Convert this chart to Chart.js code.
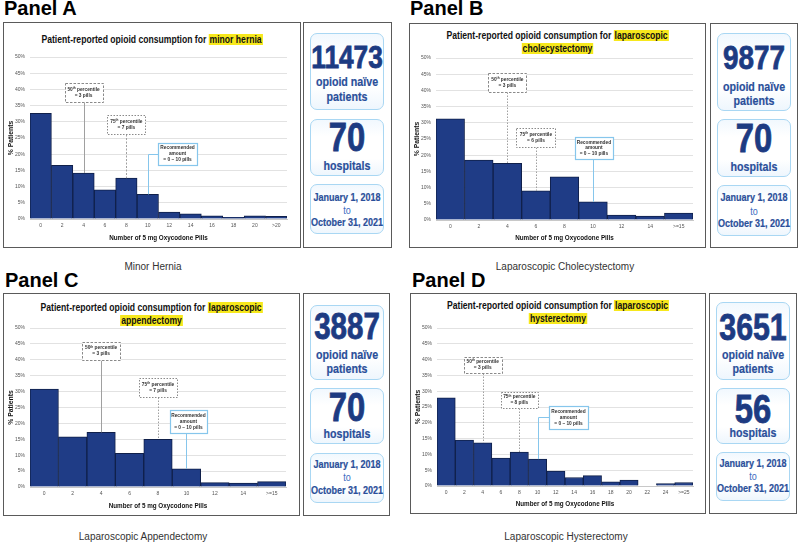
<!DOCTYPE html>
<html>
<head>
<meta charset="utf-8">
<script src="https://cdn.jsdelivr.net/npm/chart.js@4.4.1/dist/chart.umd.min.js"></script>
<style>
  html,body{margin:0;padding:0;background:#fff;}
  #root{position:relative;width:800px;height:547px;overflow:hidden;background:#fff;font-family:"Liberation Sans",Arial,sans-serif;}
  .plabel{position:absolute;font-weight:bold;font-size:20px;color:#000;line-height:22px;white-space:nowrap;}
  .cbox{position:absolute;box-sizing:border-box;border:1.5px solid #5a5a5a;background:#fff;}
  .ctitle{position:absolute;left:0;right:0;text-align:center;font-family:"Liberation Sans",Arial,sans-serif;font-weight:bold;font-size:10px;line-height:13px;color:#111;transform:scaleX(0.86);transform-origin:50% 50%;}
  .hl{background:#f7e81c;padding:0 1px;}
  canvas.cv{position:absolute;}
  .side{position:absolute;box-sizing:border-box;border:1.5px solid #5a5a5a;background:#fff;}
  .ibox{position:absolute;box-sizing:border-box;border:1.5px solid #a9d7f3;border-radius:7px;background:linear-gradient(#f1f8fe,#ffffff 30%,#ffffff 70%,#eef6fd);text-align:center;font-family:"Liberation Sans",Arial,sans-serif;font-weight:bold;color:#23468f;}
  .txt{position:absolute;left:-10px;right:-10px;white-space:nowrap;transform:scaleX(0.82);transform-origin:50% 50%;}
  .big{color:#1d3b82;-webkit-text-stroke:0.8px #1d3b82;}
  .sub{color:#2a4f9a;-webkit-text-stroke:0.2px #2a4f9a;}
  .cap{position:absolute;font-size:10px;color:#333;white-space:nowrap;transform:translateX(-50%);}
</style>
</head>
<body>
<div id="root"></div>
<script>
// ---------------- DATA ----------------
const labelsA = ['0','2','4','6','8','10','12','14','16','18','20','>20'];
const valuesA = [32.6,16.6,14.2,9.0,12.6,7.6,2.1,1.6,1.0,0.5,1.0,0.8];

const labelsB = ['0','2','4','6','8','10','12','14','>=15'];
const valuesB = [31.2,18.5,17.5,9.0,13.3,5.6,1.5,1.2,2.1];

const labelsC = ['0','2','4','6','8','10','12','14','>=15'];
const valuesC = [30.8,15.8,17.2,10.6,15.0,5.7,1.4,1.2,1.7];

const labelsD = ['0','2','4','6','8','10','12','14','16','18','20','22','24','>=25'];
const valuesD = [27.9,14.5,13.7,8.8,10.7,8.5,4.7,2.7,3.3,1.3,1.9,0,0.8,1.1];

const yTicks = [0,5,10,15,20,25,30,35,40,45,50];

const panelNames = ['Panel A','Panel B','Panel C','Panel D'];
const titleMain = 'Patient-reported opioid consumption for';
const procedures = ['minor hernia','laparoscopic cholecystectomy','laparoscopic appendectomy','laparoscopic hysterectomy'];
const captions = ['Minor Hernia','Laparoscopic Cholecystectomy','Laparoscopic Appendectomy','Laparoscopic Hysterectomy'];
const patients = ['11473','9877','3887','3651'];
const hospitals = ['70','70','70','56'];
const dateFrom = 'January 1, 2018';
const dateTo = 'October 31, 2021';

const p50Pills = ['3','3','3','3'];
const p75Pills = ['7','6','7','8'];
const recPills = ['0 – 10','0 – 10','0 – 10','0 – 10'];

const xTitle = 'Number of 5 mg Oxycodone Pills';
const yTitle = '% Patients';

// ---------------- LAYOUT ----------------
const panels = [
  {labels:labelsA, values:valuesA, label:{x:4,y:-3},
   box:{x:3,y:22,w:298,h:226}, titleTop:9.5, twoLine:false,
   plot:{l:27,t:35,r:14,b:29},
   side:{x:303,y:22,w:89,h:226, inner:[[6,10,74,77],[6,96,74,57],[6,161,74,50]]},
   sideText:{big:32, c:[[24,49,64],[18,47],[13,26,38]]},
   cap:{x:153,y:261},
   ann:[
     {type:'p50', boxIdx:2, boxPct:39.0, w:38, h:19, lineIdx:2, lineDash:[]},
     {type:'p75', boxIdx:4, boxPct:29.2, w:38, h:19, lineIdx:4, lineDash:[2,1.5]},
     {type:'rec', boxIdx:6.39, boxPct:20.1, w:39, h:22, lineIdx:5, elbow:true}
   ]},
  {labels:labelsB, values:valuesB, label:{x:410,y:-3},
   box:{x:409,y:23,w:297,h:225}, titleTop:4.5, twoLine:true,
   plot:{l:27,t:35,r:13,b:28},
   side:{x:710,y:23,w:88,h:225, inner:[[6,9,74,78],[6,95,74,58],[6,161,74,51]]},
   sideText:{big:34, c:[[24.5,54,68],[19,48],[12,26,38]]},
   cap:{x:565,y:261},
   ann:[
     {type:'p50', boxIdx:2, boxPct:42.4, w:38, h:19, lineIdx:2, lineDash:[1.5,1.5]},
     {type:'p75', boxIdx:3, boxPct:25.5, w:39, h:19, lineIdx:3, lineDash:[1.5,1.5]},
     {type:'rec', boxIdx:5.03, boxPct:22.2, w:38, h:22, lineIdx:5, elbow:false}
   ]},
  {labels:labelsC, values:valuesC, label:{x:5,y:269},
   box:{x:3,y:293,w:297,h:223}, titleTop:6.5, twoLine:true,
   plot:{l:27,t:35,r:14,b:29},
   side:{x:303,y:293,w:87,h:223, inner:[[6,11,74,75],[6,94,74,56],[6,159,74,50]]},
   sideText:{big:36, c:[[22.5,50,64],[19.5,46],[11,24,37]]},
   cap:{x:143,y:531},
   ann:[
     {type:'p50', boxIdx:2, boxPct:42.8, w:38, h:18, lineIdx:2, lineDash:[]},
     {type:'p75', boxIdx:4, boxPct:31.3, w:38, h:19, lineIdx:4, lineDash:[1.5,1.5]},
     {type:'rec', boxIdx:5.07, boxPct:20.6, w:37, h:23, lineIdx:5, elbow:false}
   ]},
  {labels:labelsD, values:valuesD, label:{x:412,y:269},
   box:{x:410,y:293,w:296,h:221}, titleTop:4.5, twoLine:true,
   plot:{l:27,t:35,r:13,b:28},
   side:{x:709,y:293,w:88,h:221, inner:[[6,8,74,78],[6,94,74,56],[6,158,74,49]]},
   sideText:{big:37, c:[[26,53,67],[21,45],[11,24,36]]},
   cap:{x:566,y:531},
   ann:[
     {type:'p50', boxIdx:2, boxPct:38.4, w:38, h:16, lineIdx:2, lineDash:[1.5,1.5]},
     {type:'p75', boxIdx:4, boxPct:27.2, w:37, h:16, lineIdx:4, lineDash:[1.5,1.5]},
     {type:'rec', boxIdx:6.69, boxPct:21.7, w:39, h:23, lineIdx:5, elbow:true}
   ]}
];

const root = document.getElementById('root');
function el(tag, cls, style, html, parent){
  const e=document.createElement(tag); if(cls) e.className=cls;
  if(style) Object.assign(e.style, style); if(html!==undefined) e.innerHTML=html;
  (parent||root).appendChild(e); return e;
}

// annotation plugin: draws percentile boxes & leader lines positioned through the scales
const annPlugin = {
  id:'pctAnn',
  afterDatasetsDraw(chart){
    const anns = chart.options.plugins.pctAnn.items;
    const texts = chart.options.plugins.pctAnn.texts;
    const xs = chart.scales.x, ys = chart.scales.y;
    const vals = chart.data.datasets[0].data;
    const ctx = chart.ctx;
    const step = xs.getPixelForValue(1) - xs.getPixelForValue(0);
    anns.forEach((a,k)=>{
      const cx = xs.getPixelForValue(0) + a.boxIdx*step;
      const cy = ys.getPixelForValue(a.boxPct);
      const bx = Math.round(cx - a.w/2)+0.5, by = Math.round(cy - a.h/2)+0.5;
      const lx = Math.round(xs.getPixelForValue(a.lineIdx))+0.5;
      const barTop = ys.getPixelForValue(vals[a.lineIdx]);
      ctx.save();
      ctx.lineWidth = 1;
      if(a.type==='rec'){
        ctx.strokeStyle = '#86c6ec'; ctx.setLineDash([]);
        ctx.beginPath();
        if(a.elbow){ ctx.moveTo(bx, Math.round(cy)+0.5); ctx.lineTo(lx, Math.round(cy)+0.5); ctx.lineTo(lx, barTop); }
        else { ctx.moveTo(lx, by+a.h); ctx.lineTo(lx, barTop); }
        ctx.stroke();
      } else {
        ctx.strokeStyle = '#a0a0a0'; ctx.setLineDash(a.lineDash);
        ctx.beginPath(); ctx.moveTo(lx, by+a.h); ctx.lineTo(lx, barTop); ctx.stroke();
      }
      ctx.fillStyle = '#fff';
      ctx.fillRect(bx, by, a.w, a.h);
      if(a.type==='rec'){ ctx.strokeStyle='#86c6ec'; ctx.setLineDash([]); ctx.lineWidth=1.2; }
      else if(a.type==='p50'){ ctx.strokeStyle='#8a8a8a'; ctx.setLineDash([2.5,1.5]); ctx.lineWidth=1; }
      else { ctx.strokeStyle='#8a8a8a'; ctx.setLineDash([1.5,1.5]); ctx.lineWidth=1; }
      ctx.strokeRect(bx, by, a.w, a.h);
      ctx.setLineDash([]);
      ctx.fillStyle = '#333';
      ctx.textBaseline = 'middle';
      const fs = 4.8;
      const font = (s)=> 'bold '+s+'px "Liberation Sans", Arial, sans-serif';
      const t = texts[k];
      const lh = 5.8;
      const y0 = cy - (t.length-1)*lh/2;
      t.forEach((line,i)=>{
        const yy = y0 + i*lh;
        if(Array.isArray(line)){
          ctx.font = font(fs); const w1 = ctx.measureText(line[0]).width;
          ctx.font = font(fs*0.65); const w2 = ctx.measureText(line[1]).width;
          ctx.font = font(fs); const w3 = ctx.measureText(line[2]).width;
          let x = cx - (w1+w2+w3)/2;
          ctx.textAlign='left';
          ctx.font = font(fs); ctx.fillText(line[0], x, yy); x+=w1;
          ctx.font = font(fs*0.65); ctx.fillText(line[1], x, yy-1.3); x+=w2;
          ctx.font = font(fs); ctx.fillText(line[2], x, yy);
        } else {
          ctx.font = font(fs); ctx.textAlign='center'; ctx.fillText(line, cx, yy);
        }
      });
      ctx.restore();
    });
  }
};

panels.forEach((p, i)=>{
  el('div','plabel',{left:p.label.x+'px', top:p.label.y+'px'}, panelNames[i]);
  const b = el('div','cbox',{left:p.box.x+'px', top:p.box.y+'px', width:p.box.w+'px', height:p.box.h+'px'});
  const words = procedures[i].split(' ');
  let titleHtml;
  if(!p.twoLine){
    titleHtml = titleMain + ' <span class="hl">' + procedures[i] + '</span>';
  } else {
    titleHtml = titleMain + ' <span class="hl">' + words[0] + '</span><br><span class="hl">' + words.slice(1).join(' ') + '</span>';
  }
  el('div','ctitle',{top:p.titleTop+'px'}, titleHtml, b);

  // side panel
  const s = el('div','side',{left:p.side.x+'px', top:p.side.y+'px', width:p.side.w+'px', height:p.side.h+'px'});
  const mk = (r)=> el('div','ibox',{left:r[0]+'px',top:r[1]+'px',width:r[2]+'px',height:r[3]+'px'}, undefined, s);
  const line = (box, text, center, size, lh, cls, extra)=>{
    const d = el('div','txt '+cls,{top:(center-1.5-lh/2)+'px', fontSize:size+'px', lineHeight:lh+'px'}, text, box);
    if(extra) Object.assign(d.style, extra);
    return d;
  };
  const c = p.sideText.c;
  const b1 = mk(p.side.inner[0]);
  line(b1, patients[i], c[0][0], p.sideText.big, 36, 'big');
  line(b1, 'opioid naïve', c[0][1], 13, 15, 'sub');
  line(b1, 'patients', c[0][2], 13, 15, 'sub');
  const b2 = mk(p.side.inner[1]);
  line(b2, hospitals[i], c[1][0], 40, 40, 'big');
  line(b2, 'hospitals', c[1][1], 13, 15, 'sub');
  const b3 = mk(p.side.inner[2]);
  line(b3, dateFrom, c[2][0], 11, 12, 'sub');
  line(b3, 'to', c[2][1], 11, 12, 'sub', {fontWeight:'normal', color:'#3b6cc0', webkitTextStroke:'0px'});
  line(b3, dateTo, c[2][2], 11, 12, 'sub');

  el('div','cap',{left:p.cap.x+'px', top:p.cap.y+'px'}, captions[i]);

  const cv = el('canvas','cv',{left:p.box.x+'px', top:p.box.y+'px'});
  cv.width = p.box.w; cv.height = p.box.h;
  cv.style.width = p.box.w+'px'; cv.style.height = p.box.h+'px';

  const annTexts = [
    [['50','th',' percentile'], '= '+p50Pills[i]+' pills'],
    [['75','th',' percentile'], '= '+p75Pills[i]+' pills'],
    ['Recommended','amount','= '+recPills[i]+' pills']
  ];

  new Chart(cv.getContext('2d'), {
    type:'bar',
    data:{ labels:p.labels, datasets:[{ data:p.values, backgroundColor:'#1f3c86', borderColor:'#10204a', borderWidth:1, barPercentage:1, categoryPercentage:1 }]},
    options:{
      responsive:false, animation:false, devicePixelRatio:1,
      layout:{padding:{top:p.plot.t, right:p.plot.r, left:0, bottom:0}},
      plugins:{ legend:{display:false}, tooltip:{enabled:false}, title:{display:false},
        pctAnn:{items:p.ann, texts:annTexts} },
      scales:{
        x:{ grid:{display:false, drawTicks:false}, border:{display:true,color:'#c8c8c8'},
            ticks:{font:{size:5, family:'"Liberation Sans", Arial'}, color:'#555', padding:4, maxRotation:0, autoSkip:false},
            title:{display:true, text:xTitle, font:{size:6.3, weight:'bold', family:'"Liberation Sans", Arial'}, color:'#111', padding:{top:0,bottom:5.5}},
            afterFit:(sc)=>{ sc.height = p.plot.b; } },
        y:{ min:0, max:50, afterBuildTicks:(sc)=>{ sc.ticks = yTicks.map(v=>({value:v})); },
            grid:{color:'#e2e2e2', drawTicks:false, lineWidth:1}, border:{display:false},
            ticks:{font:{size:5, family:'"Liberation Sans", Arial'}, color:'#555', padding:5, callback:(v)=>v+'%'},
            title:{display:true, text:yTitle, font:{size:6.8, weight:'bold', family:'"Liberation Sans", Arial'}, color:'#111', padding:{top:4,bottom:0}},
            afterFit:(sc)=>{ sc.width = p.plot.l; } }
      }
    },
    plugins:[annPlugin]
  });
});
</script>
</body>
</html>
